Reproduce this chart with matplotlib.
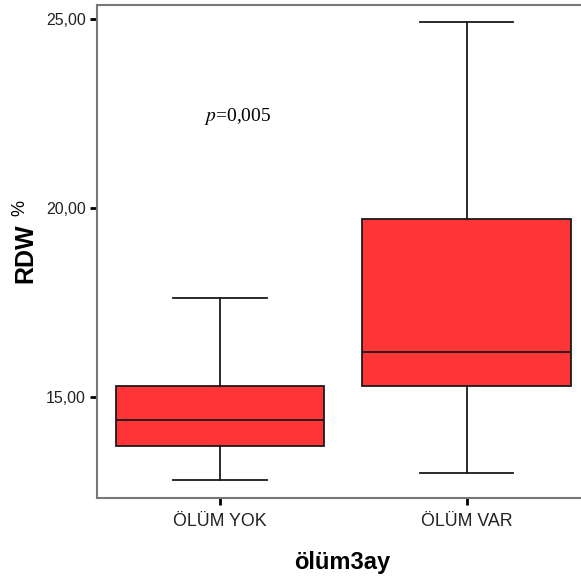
import matplotlib
matplotlib.use("Agg")
import matplotlib.pyplot as plt

# box statistics (RDW %)
groups = ["ÖLÜM YOK", "ÖLÜM VAR"]
q1 = [13.71, 15.29]
med = [14.39, 16.20]
q3 = [15.29, 19.71]
whislo = [12.80, 12.98]
whishi = [17.61, 24.91]
yticks = [15, 20, 25]
ytick_labels = ["15,00", "20,00", "25,00"]
p_text = "=0,005"

plt.rcParams["font.family"] = ["Liberation Sans", "DejaVu Sans"]
plt.rcParams["mathtext.fontset"] = "stix"

fig = plt.figure(figsize=(5.81, 5.81), dpi=100)
ax = fig.add_axes([97 / 581, 83 / 581, 484 / 581, 493 / 581])

stats = []
for i, g in enumerate(groups):
    stats.append(dict(label=g, q1=q1[i], med=med[i], q3=q3[i],
                      whislo=whislo[i], whishi=whishi[i], fliers=[]))

ax.bxp(stats, positions=[1, 2], widths=0.846, patch_artist=True,
       showfliers=False,
       boxprops=dict(facecolor="#ff3437", edgecolor="#1a1a1a", linewidth=1.3),
       medianprops=dict(color="#1a1a1a", linewidth=1.3),
       whiskerprops=dict(color="#1a1a1a", linewidth=1.3),
       capprops=dict(color="#1a1a1a", linewidth=1.3),
       capwidths=0.377)

ax.set_xlim(0.502, 2.462)
ax.set_ylim(12.33, 25.37)
ax.set_yticks(yticks)
ax.set_yticklabels(ytick_labels)
ax.tick_params(axis="both", direction="out", length=5, width=2, color="black",
               labelsize=11.5, labelcolor="#222222", pad=3)
ax.tick_params(axis="x", labelsize=12.8, pad=6)

for side in ["left", "bottom", "top"]:
    ax.spines[side].set_color("#777777")
    ax.spines[side].set_linewidth(1.5)
ax.spines["right"].set_visible(False)

ax.text(1.07, 22.41, r"$\mathit{p}$" + p_text, ha="center", va="center",
        fontsize=14, family="Liberation Serif")

fig.text(342 / 581, 1 - 563 / 581, "ölüm3ay", ha="center", va="center",
         fontsize=17, fontweight="bold")
fig.text(25 / 581, 1 - 253 / 581, "RDW", ha="center", va="center",
         rotation=90, fontsize=18, fontweight="bold")
fig.text(20 / 581, 1 - 208 / 581, "%", ha="center", va="center",
         rotation=90, fontsize=13)

fig.savefig("out.png", dpi=100)
